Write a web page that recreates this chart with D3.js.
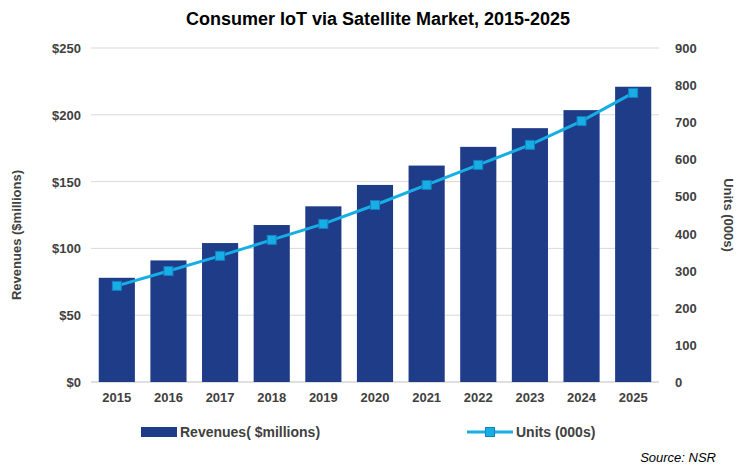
<!DOCTYPE html><html><head><script src="https://cdn.jsdelivr.net/npm/d3@7"></script>
<style>body{margin:0;background:#fff}text{font-family:Arial,"Liberation Sans",sans-serif}</style></head><body>
<svg id="c" width="756" height="469"></svg>
<script>
const years=["2015","2016","2017","2018","2019","2020","2021","2022","2023","2024","2025"];
const revenues=[78,91,104,117.5,131.5,147.5,162,176,190,203.5,221];
const units=[259,299,340,383,426,477,531,585,639,703,779];
const leftTicks=[0,50,100,150,200,250];
const rightTicks=[0,100,200,300,400,500,600,700,800,900];
const svg=d3.select("#c");
const L=91,R=659,T=48,B=382;
const x=d3.scaleBand().domain(years).range([L,R]).paddingInner(0.3).paddingOuter(0.15);
const yL=d3.scaleLinear().domain([0,250]).range([B,T]);
const yR=d3.scaleLinear().domain([0,900]).range([B,T]);
svg.append("g").selectAll("line").data(leftTicks.slice(1)).join("line")
 .attr("x1",L).attr("x2",R).attr("y1",d=>yL(d)).attr("y2",d=>yL(d)).attr("stroke","#d9d9d9");
svg.append("line").attr("x1",L).attr("x2",R).attr("y1",B).attr("y2",B).attr("stroke","#bfbfbf");
svg.append("g").selectAll("rect").data(years).join("rect")
 .attr("x",d=>x(d)).attr("width",x.bandwidth()).attr("y",(d,i)=>yL(revenues[i])).attr("height",(d,i)=>B-yL(revenues[i])).attr("fill","#1f3c88");
const cx=d=>x(d)+x.bandwidth()/2;
svg.append("path").datum(years).attr("fill","none").attr("stroke","#17aee6").attr("stroke-width",3)
 .attr("d",d3.line().x(d=>cx(d)).y((d,i)=>yR(units[i])));
svg.append("g").selectAll("rect").data(years).join("rect")
 .attr("x",d=>cx(d)-4.5).attr("y",(d,i)=>yR(units[i])-4.5).attr("width",9).attr("height",9).attr("fill","#17aee6").attr("stroke","#1581c0").attr("stroke-width",1);
const ft="bold 13px Arial";
svg.append("g").selectAll("text").data(leftTicks).join("text").attr("x",L-10).attr("y",d=>yL(d)+5).attr("text-anchor","end")
 .style("font",ft).attr("fill","#404040").text(d=>"$"+d);
svg.append("g").selectAll("text").data(rightTicks).join("text").attr("x",R+16).attr("y",d=>yR(d)+5)
 .style("font",ft).attr("fill","#404040").text(d=>d);
svg.append("g").selectAll("text").data(years).join("text").attr("x",d=>cx(d)).attr("y",B+20).attr("text-anchor","middle")
 .style("font",ft).attr("fill","#404040").text(d=>d);
svg.append("text").attr("x",378).attr("y",25).attr("text-anchor","middle").style("font","bold 18px Arial").attr("fill","#000").text("Consumer IoT via Satellite Market, 2015-2025");
svg.append("text").attr("transform",`translate(21,${(T+B)/2+20}) rotate(-90)`).attr("text-anchor","middle").style("font",ft).attr("fill","#404040").text("Revenues ($millions)");
svg.append("text").attr("transform",`translate(724,${(T+B)/2}) rotate(90)`).attr("text-anchor","middle").style("font",ft).attr("fill","#404040").text("Units (000s)");
svg.append("rect").attr("x",141).attr("y",427).attr("width",36).attr("height",10).attr("fill","#1f3c88");
svg.append("text").attr("x",180).attr("y",437).style("font","bold 14px Arial").attr("fill","#404040").text("Revenues( $millions)");
svg.append("line").attr("x1",467).attr("x2",513).attr("y1",432).attr("y2",432).attr("stroke","#17aee6").attr("stroke-width",3);
svg.append("rect").attr("x",485.5).attr("y",427.5).attr("width",9).attr("height",9).attr("fill","#17aee6").attr("stroke","#1581c0");
svg.append("text").attr("x",516).attr("y",437).style("font","bold 14px Arial").attr("fill","#404040").text("Units (000s)");
svg.append("text").attr("x",716).attr("y",462).attr("text-anchor","end").style("font","italic 13px Arial").attr("fill","#000").text("Source: NSR");
</script></body></html>
